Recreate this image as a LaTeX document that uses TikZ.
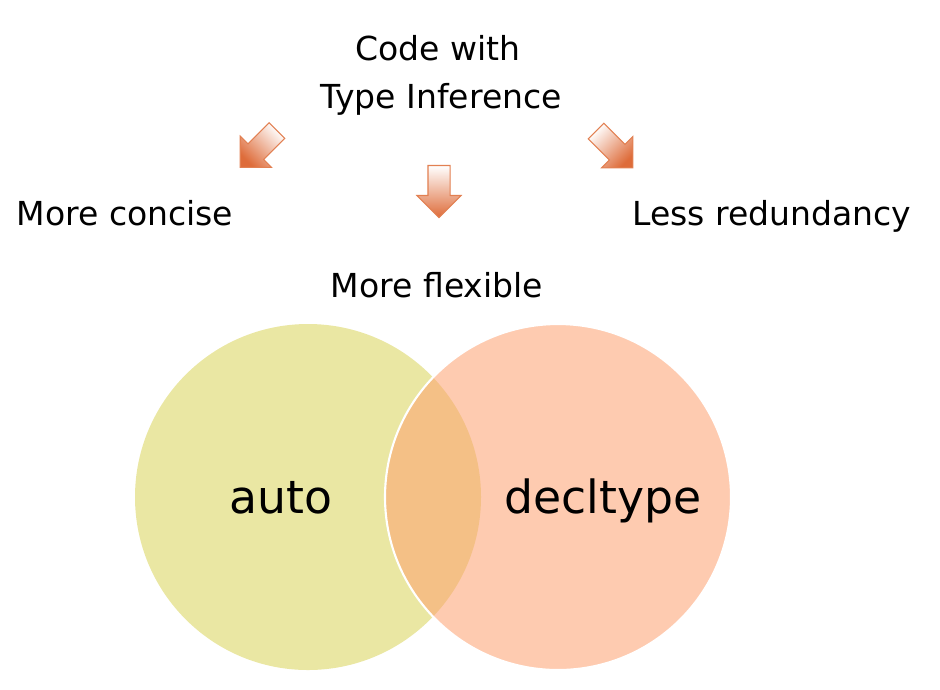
\documentclass[tikz,border=0pt]{standalone}
\usepackage{fontspec}
\setmainfont{DejaVu Sans}
\usetikzlibrary{shapes.arrows}
\definecolor{autofill}{RGB}{234,231,163}
\definecolor{declfill}{RGB}{253,160,111}
\definecolor{arrowline}{RGB}{226,128,82}
\definecolor{arrowfill}{RGB}{222,108,58}
\tikzset{
  small text/.style={font=\fontsize{9.4}{11}\selectfont},
  set text/.style={font=\fontsize{13}{15}\selectfont},
  fat arrow/.style={single arrow, draw=arrowline, line width=0.3pt,
    top color=white, bottom color=arrowfill, shading angle=#1,
    minimum height=5.2mm, inner xsep=0pt, inner ysep=1.05mm,
    single arrow head extend=1.1mm},
}
\begin{document}
\begin{tikzpicture}[scale=0.1]
\tikzstyle{every node}+=[inner sep=0pt]
\useasboundingbox (0,0) rectangle (94,-68.9);
% sets
\fill [autofill] (30.8,-49.7) circle (17.3);
\draw [white, line width=0.6pt, fill=declfill, fill opacity=0.55] (55.8,-49.7) circle (17.3);
\draw (28.1,-51.3) node [set text, anchor=base] (auto) {auto};
\draw (60.3,-51.3) node [set text, anchor=base] (decltype) {decltype};
% top text
\draw (43.8,-6.0) node [small text, anchor=base] (code) {Code with};
\draw (44.1,-10.8) node [small text, anchor=base] (infer) {Type Inference};
\draw (12.5,-22.5) node [small text, anchor=base] (concise) {More concise};
\draw (77.2,-22.5) node [small text, anchor=base] (redund) {Less redundancy};
\draw (43.7,-29.7) node [small text, anchor=base] (flex) {More flexible};
% arrows
\node [fat arrow=-45, rotate=-135] (arrowl) at (26.25,-14.5) {};
\node [fat arrow=0, rotate=-90] (arrowm) at (43.9,-18.6) {};
\node [fat arrow=45, rotate=-45] (arrowr) at (61.05,-14.55) {};
\end{tikzpicture}
\end{document}
